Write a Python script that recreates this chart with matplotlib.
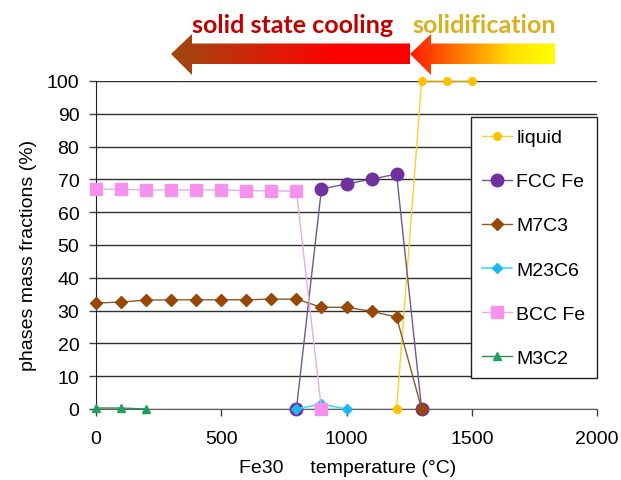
import numpy as np
import matplotlib
matplotlib.use("Agg")
import matplotlib.pyplot as plt
from matplotlib.patches import Polygon
from matplotlib.colors import LinearSegmentedColormap

plt.rcParams['font.family'] = ['Liberation Sans', 'DejaVu Sans']

# ---- data ----
liquid_x = [1200, 1300, 1400, 1500]
liquid_y = [0, 100, 100, 100]

fcc_x = [800, 900, 1000, 1100, 1200, 1300]
fcc_y = [0, 67.1, 68.6, 70.1, 71.6, 0]

m7c3_x = [0, 100, 200, 300, 400, 500, 600, 700, 800, 900, 1000, 1100, 1200, 1300]
m7c3_y = [32.3, 32.6, 33.2, 33.3, 33.3, 33.3, 33.3, 33.5, 33.5, 31.0, 31.0, 29.8, 28.0, 0]

m23c6_x = [800, 900, 1000]
m23c6_y = [0, 1.5, 0]

bcc_x = [0, 100, 200, 300, 400, 500, 600, 700, 800, 900]
bcc_y = [67.0, 67.0, 66.8, 66.8, 66.8, 66.8, 66.6, 66.5, 66.4, 0]

m3c2_x = [0, 100, 200]
m3c2_y = [0.3, 0.3, 0.0]

x_ticks = [0, 500, 1000, 1500, 2000]
y_ticks = list(range(0, 101, 10))

W, H = 621, 481
fig = plt.figure(figsize=(W / 100, H / 100), dpi=100)
ax = fig.add_axes([96 / W, 71 / H, 501 / W, 328 / H])

ax.set_xlim(0, 2000)
ax.set_ylim(0, 100)
ax.set_xticks(x_ticks)
ax.set_yticks(y_ticks)
ax.tick_params(axis='both', labelsize=14, direction='out', length=5, width=1, colors='#404040', labelcolor='black')
ax.tick_params(axis='x', pad=10)
ax.tick_params(axis='y', pad=7)
ax.yaxis.grid(True, color='#303030', lw=1)
ax.set_axisbelow(True)
for s in ['top', 'right']:
    ax.spines[s].set_visible(False)
ax.spines['left'].set_color('#202020')
ax.spines['bottom'].set_color('#606060')

ax.plot(liquid_x, liquid_y, '-o', color='#F5D328', mfc='#FFC000', mec='#FFC000', ms=5.5, lw=1, label='liquid', clip_on=False, zorder=3)
ax.plot(fcc_x, fcc_y, '-o', color='#6E5A8A', mfc='#7030A0', mec='#7030A0', ms=9, lw=1, label='FCC Fe', clip_on=False, zorder=3)
ax.plot(m7c3_x, m7c3_y, '-D', color='#8B5A2B', mfc='#974806', mec='#974806', ms=6, lw=1, label='M7C3', clip_on=False, zorder=3)
ax.plot(m23c6_x, m23c6_y, '-D', color='#40E0F0', mfc='#1FB8F0', mec='#1FB8F0', ms=5.6, lw=1.2, label='M23C6', clip_on=False, zorder=3)
ax.plot(bcc_x, bcc_y, '-s', color='#E0B0E0', mfc='#F592EE', mec='#F592EE', ms=8.5, lw=1, label='BCC Fe', clip_on=False, zorder=3)
ax.plot(m3c2_x, m3c2_y, '-^', color='#2E8B57', mfc='#1FA05A', mec='#1FA05A', ms=6, lw=1, label='M3C2', clip_on=False, zorder=3)

ax.set_ylabel('phases mass fractions (%)', fontsize=14)
ax.set_xlabel('Fe30     temperature (°C)', fontsize=14)
ax.xaxis.set_label_coords(0.502, -0.152)
ax.yaxis.set_label_coords(-0.117, 0.47)

leg = ax.legend(loc='upper right', bbox_to_anchor=(1.0, 0.890), fontsize=14, fancybox=False,
                edgecolor='#202020', framealpha=1, labelspacing=1.36, handlelength=1.55,
                handletextpad=0.2, borderpad=0.6, borderaxespad=0)
leg.get_frame().set_linewidth(1)

# ---- decorative arrows ----
ov = fig.add_axes([0, 0, 1, 1], zorder=5)
ov.set_xlim(0, W)
ov.set_ylim(H, 0)
ov.axis('off')
ov.patch.set_alpha(0)

def grad_arrow(x_tip, x_end, colors):
    head_back = x_tip + 21
    pts = [(x_tip, 55), (head_back, 35), (head_back, 44.5), (x_end, 44.5),
           (x_end, 65), (head_back, 65), (head_back, 76)]
    poly = Polygon(pts, closed=True, facecolor='none', edgecolor='none')
    ov.add_patch(poly)
    cmap = LinearSegmentedColormap.from_list('g', colors)
    grad = np.linspace(0, 1, 256).reshape(1, -1)
    im = ov.imshow(grad, cmap=cmap, extent=[x_tip, x_end, 76, 35], aspect='auto', interpolation='bicubic')
    im.set_clip_path(poly)

grad_arrow(171, 410, [(0.0, '#9C4A10'), (0.45, '#E01A08'), (0.7, '#FF0000'), (1.0, '#FF0000')])
grad_arrow(410, 555, [(0.0, '#FF1A00'), (0.35, '#FF7A00'), (0.7, '#FFE000'), (1.0, '#FFFF00')])
ov.set_xlim(0, W)
ov.set_ylim(H, 0)

ov.text(293, 33, 'solid state cooling', color='#C00000', fontsize=18, fontweight='bold',
        family=['Lato', 'DejaVu Sans'], ha='center', va='baseline')
ov.text(484, 33, 'solidification', color='#D8B020', fontsize=18, fontweight='bold',
        family=['Lato', 'DejaVu Sans'], ha='center', va='baseline')

fig.savefig('out.png', dpi=100)
